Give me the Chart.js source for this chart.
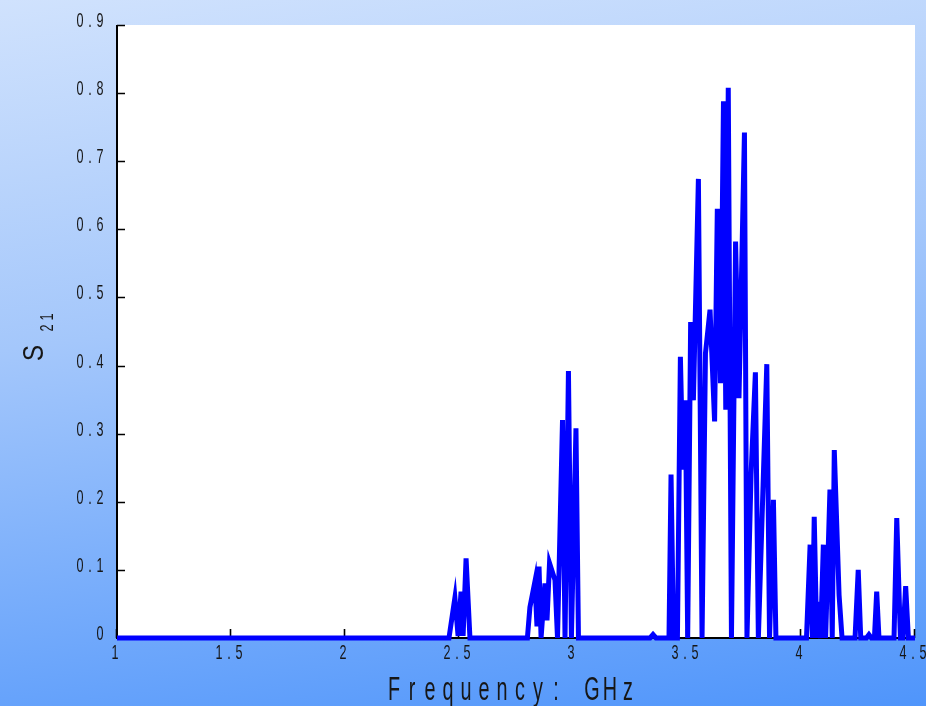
<!DOCTYPE html>
<html>
<head>
<meta charset="utf-8">
<title>S21</title>
<script src="https://cdn.jsdelivr.net/npm/chart.js@4.4.1/dist/chart.umd.min.js"></script>
<style>
    html, body { margin: 0; padding: 0; }
    #wrap {
        width: 926px;
        height: 706px;
        background: linear-gradient(172deg, #d0e2fd 0%, #a4c7fb 42%, #4f95fb 100%);
    }
</style>
</head>
<body>
<div id="wrap"><canvas id="s21Chart" width="926" height="706"></canvas></div>
<script>
// transmission trace, frequency in GHz
const freqGHz = [
    1.000, 2.456, 2.482, 2.496, 2.509, 2.518, 2.531, 2.548,
    2.800, 2.811, 2.833, 2.842, 2.851, 2.860, 2.877, 2.886, 2.897, 2.921, 2.932,
    2.954, 2.965, 2.980, 2.993, 3.013, 3.024,
    3.338, 3.351, 3.364,
    3.421, 3.430, 3.441, 3.458, 3.471, 3.482, 3.493, 3.503, 3.516, 3.528, 3.550, 3.566,
    3.581, 3.601, 3.621, 3.633, 3.647, 3.660, 3.670, 3.681, 3.695, 3.713, 3.728, 3.752,
    3.763, 3.781, 3.800, 3.813, 3.850, 3.862, 3.879, 3.890,
    4.024, 4.040, 4.050, 4.058, 4.069, 4.076, 4.086, 4.098, 4.108, 4.127, 4.137, 4.146, 4.167, 4.180,
    4.237, 4.251, 4.262, 4.287, 4.298, 4.309, 4.322, 4.332, 4.342,
    4.408, 4.420, 4.436, 4.447, 4.459, 4.471, 4.500
];
const s21 = [
    0, 0, 0.059, 0.003, 0.068, 0.003, 0.117, 0,
    0, 0.045, 0.083, 0.017, 0.105, 0, 0.080, 0.026, 0.110, 0.085, 0,
    0.320, 0, 0.392, 0, 0.308, 0,
    0, 0.005, 0,
    0, 0.240, 0, 0, 0.413, 0.247, 0.349, 0, 0.464, 0.349, 0.674, 0,
    0.418, 0.482, 0.318, 0.630, 0.374, 0.788, 0.335, 0.808, 0, 0.582, 0.352, 0.742,
    0, 0.240, 0.390, 0, 0.402, 0, 0.203, 0,
    0, 0.137, 0, 0.178, 0, 0.053, 0, 0.137, 0, 0.218, 0, 0.276, 0.063, 0,
    0, 0.100, 0, 0, 0.005, 0, 0, 0.068, 0,
    0, 0.176, 0, 0, 0.076, 0, 0
];
const xTickValues = [1, 1.5, 2, 2.5, 3, 3.5, 4, 4.5];
const xTickLabels = ['1', '1.5', '2', '2.5', '3', '3.5', '4', '4.5'];
const yTickValues = [0, 0.1, 0.2, 0.3, 0.4, 0.5, 0.6, 0.7, 0.8, 0.9];
const yTickLabels = ['0', '0.1', '0.2', '0.3', '0.4', '0.5', '0.6', '0.7', '0.8', '0.9'];

const TEXT_COLOR = '#161616';
const LABEL_FONT = '21px "Liberation Sans", Arial, sans-serif';

// one glyph per cell, squeezed horizontally, like the old plotting font
function drawSpaced(ctx, str, cx0, y, step, sx) {
    [...str].forEach((ch, i) => {
        if (ch === ' ') return;
        ctx.save();
        ctx.translate(cx0 + i * step, y);
        ctx.scale(sx, 1);
        ctx.fillText(ch, 0, 0);
        ctx.restore();
    });
}

const axesPlugin = {
    id: 'axesPlugin',
    beforeDraw(chart) {
        const { ctx, chartArea: a } = chart;
        ctx.save();
        ctx.fillStyle = '#ffffff';
        ctx.fillRect(a.left, a.top, a.right - a.left, a.bottom - a.top);
        ctx.restore();
    },
    beforeDatasetsDraw(chart) {
        const { ctx, chartArea: a } = chart;
        const xs = chart.scales.x;
        const ys = chart.scales.y;
        ctx.save();
        ctx.strokeStyle = '#000';
        ctx.lineWidth = 2;
        ctx.beginPath();
        ctx.moveTo(a.left, a.top);
        ctx.lineTo(a.left, a.bottom);
        ctx.lineTo(a.right, a.bottom);
        ctx.stroke();

        // inward tick marks
        ctx.lineWidth = 1.6;
        ctx.beginPath();
        yTickValues.forEach(v => {
            const py = Math.round(ys.getPixelForValue(v)) + 0.5;
            ctx.moveTo(a.left, py);
            ctx.lineTo(a.left + 8, py);
        });
        xTickValues.forEach(v => {
            const px = Math.round(xs.getPixelForValue(v)) - 0.5;
            ctx.moveTo(px, a.bottom);
            ctx.lineTo(px, a.bottom - 9);
        });
        ctx.stroke();

        ctx.fillStyle = TEXT_COLOR;
        ctx.font = LABEL_FONT;
        ctx.textAlign = 'center';
        ctx.textBaseline = 'alphabetic';
        const step = 10;

        yTickLabels.forEach((t, i) => {
            const py = ys.getPixelForValue(yTickValues[i]);
            const n = t.length;
            drawSpaced(ctx, t, a.left - 17 - (n - 1) * step, py + 2, step, 0.6);
        });
        xTickLabels.forEach((t, i) => {
            const px = xs.getPixelForValue(xTickValues[i]);
            const n = t.length;
            drawSpaced(ctx, t, px - 2 - (n - 1) * step / 2, a.bottom + 21, step, 0.6);
        });

        // x title
        ctx.font = '33px "Liberation Sans", Arial, sans-serif';
        const title = 'Frequency: GHz';
        const tStep = 18;
        drawSpaced(ctx, title, 511 - (title.length - 1) * tStep / 2, 700, tStep, 0.6);

        // y title: S with subscript 21, rotated
        ctx.save();
        ctx.translate(43, 361);
        ctx.rotate(-Math.PI / 2);
        ctx.textAlign = 'left';
        ctx.font = '30px "Liberation Sans", Arial, sans-serif';
        ctx.save();
        ctx.scale(0.8, 1);
        ctx.fillText('S', 0, 0);
        ctx.restore();
        ctx.font = '18px "Liberation Sans", Arial, sans-serif';
        ctx.textAlign = 'center';
        drawSpaced(ctx, '21', 33, 10, 11, 0.7);
        ctx.restore();

        ctx.restore();
    }
};

const points = freqGHz.map((f, i) => ({ x: f, y: s21[i] }));

new Chart(document.getElementById('s21Chart'), {
    type: 'line',
    data: {
        datasets: [{
            label: 'S21',
            data: points,
            borderColor: '#0000ff',
            borderWidth: 5,
            pointRadius: 0,
            tension: 0,
            fill: false,
            clip: false
        }]
    },
    options: {
        responsive: false,
        animation: false,
        events: [],
        layout: { padding: { left: 117, top: 25, right: 11, bottom: 68 } },
        plugins: {
            legend: { display: false },
            tooltip: { enabled: false }
        },
        scales: {
            x: {
                type: 'linear',
                min: 1,
                max: 4.5,
                ticks: { display: false, stepSize: 0.5 },
                grid: { display: false, drawTicks: false },
                border: { display: false },
                afterFit: s => { s.height = 0; }
            },
            y: {
                min: 0,
                max: 0.9,
                ticks: { display: false, stepSize: 0.1 },
                grid: { display: false, drawTicks: false },
                border: { display: false },
                afterFit: s => { s.width = 0; }
            }
        }
    },
    plugins: [axesPlugin]
});
</script>
</body>
</html>
